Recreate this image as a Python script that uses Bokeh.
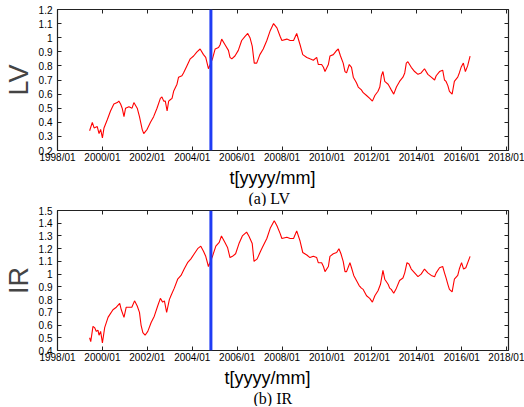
from bokeh.plotting import figure
from bokeh.layouts import column
from bokeh.models import Span, FixedTicker, LinearAxis, Title, NumeralTickFormatter, Range1d
from bokeh.embed import file_html
from bokeh.resources import INLINE

# ---- data (decimal years) ----
lv_t = [1999.43, 1999.55, 1999.63, 1999.77, 1999.85, 1999.92, 2000.00, 2000.07, 2000.22, 2000.29,
        2000.36, 2000.51, 2000.66, 2000.73, 2000.81, 2000.88, 2000.96, 2001.03, 2001.18, 2001.32,
        2001.40, 2001.55, 2001.65, 2001.77, 2001.84, 2001.99, 2002.14, 2002.28, 2002.43, 2002.58,
        2002.65, 2002.73, 2002.80, 2002.88, 2002.95, 2003.02, 2003.10, 2003.17, 2003.32, 2003.39,
        2003.54, 2003.61, 2003.76, 2003.91, 2004.06, 2004.21, 2004.35, 2004.50, 2004.60, 2004.72,
        2004.90, 2005.02, 2005.17, 2005.24, 2005.31, 2005.46, 2005.61, 2005.68, 2005.76, 2005.90,
        2006.05, 2006.20, 2006.35, 2006.47, 2006.57, 2006.67, 2006.76, 2006.87, 2007.01, 2007.16,
        2007.32, 2007.47, 2007.62, 2007.77, 2007.91, 2007.99, 2008.21, 2008.36, 2008.51, 2008.65,
        2008.80, 2008.92, 2009.10, 2009.24, 2009.39, 2009.54, 2009.61, 2009.76, 2009.84, 2009.91,
        2010.06, 2010.13, 2010.28, 2010.43, 2010.50, 2010.60, 2010.72, 2010.80, 2010.87, 2010.99,
        2011.09, 2011.17, 2011.31, 2011.39, 2011.53, 2011.61, 2011.76, 2011.90, 2012.02, 2012.13,
        2012.27, 2012.35, 2012.42, 2012.49, 2012.57, 2012.72, 2012.79, 2012.86, 2012.97, 2013.09,
        2013.23, 2013.38, 2013.46, 2013.53, 2013.60, 2013.75, 2013.90, 2014.05, 2014.19, 2014.34,
        2014.49, 2014.64, 2014.79, 2014.86, 2015.01, 2015.15, 2015.23, 2015.30, 2015.38, 2015.45,
        2015.57, 2015.67, 2015.82, 2015.89, 2015.97, 2016.07, 2016.16, 2016.26, 2016.37]
lv = [0.34, 0.40, 0.36, 0.37, 0.32, 0.35, 0.29, 0.36, 0.42, 0.45,
      0.48, 0.53, 0.54, 0.55, 0.53, 0.50, 0.44, 0.50, 0.51, 0.50,
      0.54, 0.50, 0.44, 0.35, 0.32, 0.35, 0.40, 0.44, 0.50, 0.57,
      0.58, 0.55, 0.55, 0.48, 0.55, 0.56, 0.57, 0.62, 0.67, 0.72,
      0.73, 0.75, 0.80, 0.85, 0.87, 0.90, 0.92, 0.88, 0.86, 0.78,
      0.85, 0.92, 0.93, 0.95, 0.99, 0.95, 0.91, 0.86, 0.85, 0.87,
      0.91, 0.98, 1.01, 1.03, 1.00, 0.94, 0.82, 0.82, 0.88, 0.92,
      0.98, 1.05, 1.10, 1.07, 1.01, 0.98, 0.99, 0.98, 0.98, 1.03,
      0.95, 0.88, 0.86, 0.85, 0.84, 0.86, 0.81, 0.81, 0.79, 0.76,
      0.81, 0.87, 0.88, 0.91, 0.92, 0.87, 0.82, 0.76, 0.75, 0.81,
      0.79, 0.72, 0.68, 0.65, 0.63, 0.61, 0.59, 0.57, 0.55, 0.59,
      0.62, 0.65, 0.73, 0.76, 0.69, 0.67, 0.65, 0.63, 0.60, 0.65,
      0.69, 0.72, 0.75, 0.82, 0.83, 0.79, 0.76, 0.74, 0.75, 0.78,
      0.74, 0.72, 0.70, 0.73, 0.76, 0.77, 0.70, 0.69, 0.66, 0.62,
      0.60, 0.69, 0.72, 0.75, 0.79, 0.82, 0.76, 0.80, 0.87]

ir_t = [1999.43, 1999.48, 1999.58, 1999.65, 1999.73, 1999.80, 1999.85, 1999.92, 2000.00, 2000.10,
        2000.25, 2000.32, 2000.47, 2000.62, 2000.77, 2000.84, 2000.96, 2001.06, 2001.21, 2001.31,
        2001.43, 2001.55, 2001.65, 2001.72, 2001.80, 2001.90, 2002.02, 2002.17, 2002.31, 2002.46,
        2002.58, 2002.68, 2002.76, 2002.86, 2002.98, 2003.05, 2003.20, 2003.35, 2003.50, 2003.64,
        2003.79, 2003.94, 2004.09, 2004.24, 2004.38, 2004.50, 2004.60, 2004.72, 2004.90, 2005.05,
        2005.20, 2005.30, 2005.45, 2005.57, 2005.68, 2005.79, 2005.93, 2006.08, 2006.23, 2006.42,
        2006.52, 2006.67, 2006.75, 2006.89, 2007.04, 2007.12, 2007.32, 2007.47, 2007.65, 2007.77,
        2007.91, 2007.99, 2008.21, 2008.36, 2008.51, 2008.65, 2008.80, 2008.92, 2009.10, 2009.24,
        2009.39, 2009.54, 2009.61, 2009.76, 2009.84, 2009.91, 2010.06, 2010.13, 2010.28, 2010.43,
        2010.53, 2010.62, 2010.72, 2010.80, 2010.87, 2011.02, 2011.09, 2011.19, 2011.31, 2011.43,
        2011.53, 2011.61, 2011.76, 2011.90, 2012.02, 2012.13, 2012.27, 2012.38, 2012.49, 2012.57,
        2012.72, 2012.79, 2012.86, 2012.97, 2013.09, 2013.23, 2013.38, 2013.46, 2013.56, 2013.65,
        2013.75, 2013.90, 2014.05, 2014.19, 2014.34, 2014.49, 2014.64, 2014.79, 2014.86, 2015.01,
        2015.15, 2015.23, 2015.30, 2015.38, 2015.45, 2015.57, 2015.67, 2015.82, 2015.89, 2015.99,
        2016.08, 2016.18, 2016.37]
ir = [0.50, 0.47, 0.59, 0.58, 0.55, 0.56, 0.52, 0.55, 0.46, 0.58,
      0.66, 0.68, 0.72, 0.74, 0.77, 0.72, 0.66, 0.74, 0.74, 0.74,
      0.79, 0.75, 0.70, 0.60, 0.54, 0.52, 0.55, 0.62, 0.67, 0.75,
      0.81, 0.78, 0.79, 0.70, 0.80, 0.83, 0.89, 0.96, 0.99, 1.04,
      1.09, 1.12, 1.16, 1.20, 1.22, 1.18, 1.14, 1.06, 1.14, 1.22,
      1.25, 1.30, 1.25, 1.21, 1.13, 1.14, 1.16, 1.24, 1.30, 1.33,
      1.30, 1.24, 1.10, 1.12, 1.18, 1.21, 1.28, 1.36, 1.42, 1.38,
      1.32, 1.28, 1.29, 1.28, 1.28, 1.34, 1.26, 1.17, 1.15, 1.13,
      1.14, 1.13, 1.09, 1.09, 1.06, 1.02, 1.06, 1.14, 1.16, 1.17,
      1.20, 1.16, 1.10, 1.02, 1.02, 1.09, 1.05, 0.99, 0.95, 0.91,
      0.89, 0.88, 0.83, 0.81, 0.78, 0.83, 0.87, 0.92, 1.03, 0.96,
      0.92, 0.89, 0.88, 0.85, 0.89, 0.95, 0.97, 1.01, 1.09, 1.08,
      1.04, 1.01, 0.98, 1.00, 1.04, 1.01, 0.99, 0.98, 1.01, 1.05,
      1.06, 1.01, 0.97, 0.92, 0.88, 0.86, 0.96, 0.99, 1.04, 1.09,
      1.04, 1.05, 1.14]

x_ticks = [1998, 2000, 2002, 2004, 2006, 2008, 2010, 2012, 2014, 2016, 2018]
x_labels = ["1998/01", "2000/01", "2002/01", "2004/01", "2006/01", "2008/01",
            "2010/01", "2012/01", "2014/01", "2016/01", "2018/01"]
lv_ticks = [0.2, 0.3, 0.4, 0.5, 0.6, 0.7, 0.8, 0.9, 1.0, 1.1, 1.2]
ir_ticks = [0.4, 0.5, 0.6, 0.7, 0.8, 0.9, 1.0, 1.1, 1.2, 1.3, 1.4, 1.5]
break_date = 2004.83

TICK_FONT = "Liberation Sans"


def panel(t, v, ylab, xlab, caption, yticks, height, top, bottom, xlab_off, cap_off):
    p = figure(width=524, height=height, output_backend="svg", toolbar_location=None,
               x_range=Range1d(1998, 2018.08), y_range=Range1d(yticks[0], yticks[-1]),
               min_border_left=55, min_border_right=16, min_border_top=top,
               min_border_bottom=bottom)
    p.grid.visible = False
    p.outline_line_color = "#222222"
    p.outline_line_width = 1.2
    p.background_fill_color = "white"
    p.border_fill_color = "white"

    xt = FixedTicker(ticks=x_ticks)
    yt = FixedTicker(ticks=yticks)

    xa = p.xaxis[0]
    xa.ticker = xt
    xa.major_label_overrides = dict(zip(x_ticks, x_labels))
    ya = p.yaxis[0]
    ya.ticker = yt
    ya.formatter = NumeralTickFormatter(format="0.[0]")
    ya.axis_label = ylab
    ya.axis_label_text_font = TICK_FONT
    ya.axis_label_text_font_size = "27px"
    ya.axis_label_text_font_style = "normal"
    ya.axis_label_standoff = 2
    for ax in (xa, ya):
        ax.axis_line_color = None
        ax.major_tick_in = 4
        ax.major_tick_out = 0
        ax.minor_tick_in = 0
        ax.minor_tick_out = 0
        ax.major_tick_line_color = "#222222"
        ax.major_label_text_font = TICK_FONT
        ax.major_label_text_font_size = "10px"
        ax.major_label_text_color = "black"
        ax.major_label_text_line_height = 1.0
    xa.major_label_standoff = 1
    ya.major_label_standoff = 5

    for loc, tk, vals in (("above", xt, x_ticks), ("right", yt, yticks)):
        m = LinearAxis(ticker=tk, axis_line_color=None, major_tick_in=4, major_tick_out=0,
                       minor_tick_in=0, minor_tick_out=0,
                       major_label_overrides={k: "" for k in vals},
                       major_label_standoff=0, major_tick_line_color="#222222")
        p.add_layout(m, loc)

    p.line(t, v, line_color="#ff0000", line_width=1.1)
    p.add_layout(Span(location=break_date, dimension="height", line_color="#1f3cf5",
                      line_width=3))

    p.add_layout(Title(text=xlab, align="left", offset=xlab_off, standoff=0,
                       text_font=TICK_FONT, text_font_size="18px", text_line_height=1.0,
                       text_font_style="normal", text_color="black"), "below")
    p.add_layout(Title(text=caption, align="left", offset=cap_off, standoff=0,
                       text_font="Liberation Serif", text_font_size="16px",
                       text_line_height=1.0,
                       text_font_style="normal", text_color="black"), "below")
    return p


p1 = panel(lv_t, lv, "LV", "t[yyyy/mm]", "(a) LV", lv_ticks, 206, 9, 50, 172, 191)
p2 = panel(ir_t, ir, "IR", "t[yyyy/mm]", "(b) IR", ir_ticks, 200, 4, 50, 167, 196)

layout = column(p1, p2, spacing=0)
open("out.html", "w").write(file_html(layout, INLINE))
